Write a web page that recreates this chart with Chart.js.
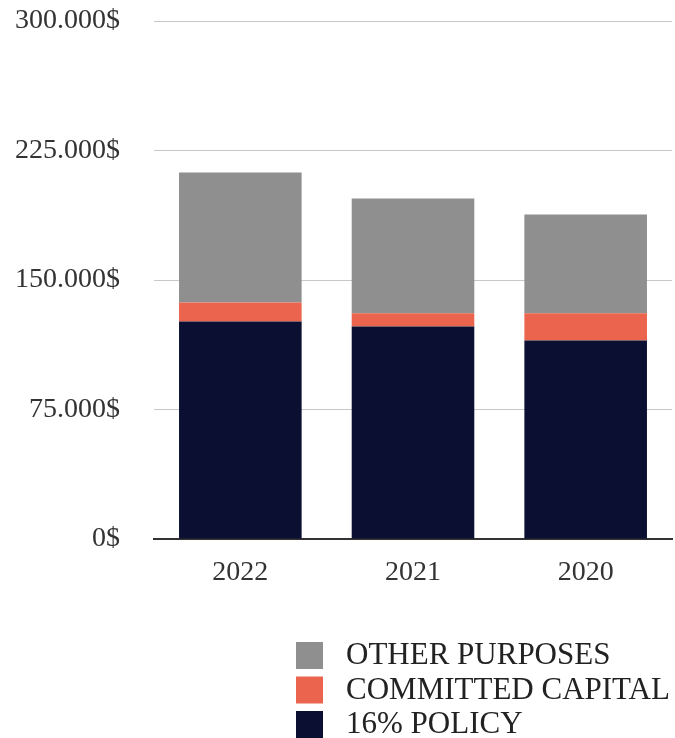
<!DOCTYPE html>
<html>
<head>
<meta charset="utf-8">
<script src="https://cdn.jsdelivr.net/npm/chart.js@4"></script>
<style>
  html, body { margin: 0; padding: 0; background: #fff; }
  #wrap { width: 675px; height: 738px; position: relative; }
</style>
</head>
<body>
<div id="wrap"><canvas id="chart"></canvas></div>
<script>
const years = ["2022", "2021", "2020"];
const policy = [126000, 123000, 115000];
const committed = [11000, 7800, 15800];
const other = [75300, 66400, 57200];
const yTicks = [0, 75000, 150000, 225000, 300000];

const font = "'Liberation Serif', 'Times New Roman', serif";

function money(v) {
  return String(v).replace(/\B(?=(\d{3})+(?!\d))/g, ".") + "$";
}

// legend drawn under the plot, one item per line
const sideLegend = {
  id: "sideLegend",
  afterDraw(chart) {
    const ctx = chart.ctx;
    const sets = chart.data.datasets.slice().reverse();
    ctx.save();
    ctx.font = "31px " + font;
    ctx.textBaseline = "middle";
    sets.forEach((ds, i) => {
      const y = 642 + i * 34.5;
      ctx.fillStyle = ds.backgroundColor;
      ctx.fillRect(296, y, 27, 27);
      ctx.fillStyle = "#222";
      ctx.fillText(ds.label, 346, y + 14);
    });
    ctx.restore();
  }
};

new Chart(document.getElementById("chart"), {
  type: "bar",
  data: {
    labels: years,
    datasets: [
      { label: "16% POLICY", data: policy, backgroundColor: "#0b0f31" },
      { label: "COMMITTED CAPITAL", data: committed, backgroundColor: "#ea644e" },
      { label: "OTHER PURPOSES", data: other, backgroundColor: "#8f8f8f" }
    ]
  },
  options: {
    responsive: true,
    maintainAspectRatio: false,
    animation: false,
    layout: { padding: { top: 21, right: 3, bottom: 149, left: 0 } },
    datasets: { bar: { barPercentage: 0.71, categoryPercentage: 1 } },
    plugins: { legend: { display: false }, tooltip: { enabled: false } },
    scales: {
      x: {
        stacked: true,
        grid: { display: false },
        border: { display: true, color: "#333", width: 2 },
        ticks: { color: "#333", font: { family: font, size: 28 }, padding: 9 },
        afterFit(axis) { axis.height = 50; }
      },
      y: {
        stacked: true,
        min: 0,
        max: 300000,
        afterBuildTicks(axis) { axis.ticks = yTicks.map(v => ({ value: v })); },
        grid: { color: "#c8c8c8", drawTicks: false },
        border: { display: false },
        ticks: {
          color: "#333",
          font: { family: font, size: 28 },
          padding: 34,
          callback: v => money(v)
        },
        afterFit(axis) {
          axis.width = 154;
          axis.paddingTop = 0;
          axis.paddingBottom = 0;
        }
      }
    }
  },
  plugins: [sideLegend]
});
</script>
</body>
</html>
